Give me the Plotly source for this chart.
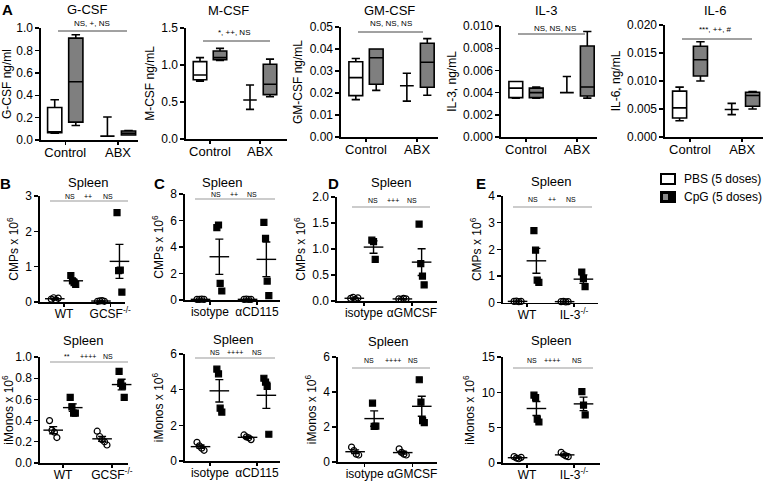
import numpy as np
import plotly.graph_objects as go

W, H = 766, 482
FONT = "Liberation Sans, Arial, sans-serif"

# ---------------- Panel A: box summaries [Control, ABX] ----------------
box_categories = ["Control", "ABX"]

gcsf_pbs_low = [0.06, 0.035]
gcsf_pbs_q1 = [0.065, 0.035]
gcsf_pbs_med = [0.07, 0.035]
gcsf_pbs_q3 = [0.29, 0.035]
gcsf_pbs_high = [0.36, 0.205]
gcsf_cpg_low = [0.13, 0.045]
gcsf_cpg_q1 = [0.16, 0.045]
gcsf_cpg_med = [0.52, 0.06]
gcsf_cpg_q3 = [0.91, 0.08]
gcsf_cpg_high = [0.94, 0.085]

mcsf_pbs_low = [0.78, 0.40]
mcsf_pbs_q1 = [0.80, 0.527]
mcsf_pbs_med = [0.865, 0.527]
mcsf_pbs_q3 = [1.045, 0.527]
mcsf_pbs_high = [1.10, 0.73]
mcsf_cpg_low = [1.06, 0.57]
mcsf_cpg_q1 = [1.07, 0.60]
mcsf_cpg_med = [1.10, 0.74]
mcsf_cpg_q3 = [1.19, 1.01]
mcsf_cpg_high = [1.225, 1.08]

gmcsf_pbs_low = [0.017, 0.0163]
gmcsf_pbs_q1 = [0.0188, 0.0233]
gmcsf_pbs_med = [0.027, 0.0233]
gmcsf_pbs_q3 = [0.0342, 0.0233]
gmcsf_pbs_high = [0.0357, 0.029]
gmcsf_cpg_low = [0.0212, 0.019]
gmcsf_cpg_q1 = [0.024, 0.0226]
gmcsf_cpg_med = [0.036, 0.034]
gmcsf_cpg_q3 = [0.040, 0.0426]
gmcsf_cpg_high = [0.040, 0.0447]

il3_pbs_low = [0.0035, 0.0040]
il3_pbs_q1 = [0.00355, 0.0040]
il3_pbs_med = [0.0044, 0.0040]
il3_pbs_q3 = [0.0050, 0.0040]
il3_pbs_high = [0.0050, 0.00545]
il3_cpg_low = [0.0035, 0.0035]
il3_cpg_q1 = [0.00355, 0.0037]
il3_cpg_med = [0.0040, 0.0045]
il3_cpg_q3 = [0.0044, 0.0082]
il3_cpg_high = [0.0045, 0.0095]

il6_pbs_low = [0.0029, 0.0040]
il6_pbs_q1 = [0.0034, 0.0049]
il6_pbs_med = [0.0052, 0.0049]
il6_pbs_q3 = [0.0082, 0.0049]
il6_pbs_high = [0.0089, 0.0060]
il6_cpg_low = [0.0100, 0.0050]
il6_cpg_q1 = [0.0109, 0.0055]
il6_cpg_med = [0.0138, 0.0074]
il6_cpg_q3 = [0.0162, 0.0080]
il6_cpg_high = [0.0170, 0.0081]

# ---------------- Panels B-E: individual mice ----------------
b_labels = ["WT", "GCSF<sup>-/-</sup>"]
c_labels = ["isotype", "αCD115"]
d_labels = ["isotype", "αGMCSF"]
e_labels = ["WT", "IL-3<sup>-/-</sup>"]

# CMPs x 10^6
b_cmp_g1_pbs = [0.08, 0.12, 0.06, 0.11]
b_cmp_g1_cpg = [0.75, 0.60, 0.55, 0.50]
b_cmp_g2_pbs = [0.02, 0.03, 0.04, 0.02]
b_cmp_g2_cpg = [2.53, 0.89, 0.90, 0.28]

c_cmp_g1_pbs = [0.05, 0.04, 0.06, 0.05]
c_cmp_g1_cpg = [5.46, 5.66, 1.26, 0.68]
c_cmp_g2_pbs = [0.05, 0.06, 0.04, 0.05]
c_cmp_g2_cpg = [5.86, 4.65, 1.43, 0.33]

d_cmp_g1_pbs = [0.05, 0.07, 0.03, 0.06]
d_cmp_g1_cpg = [1.17, 1.14, 0.80]
d_cmp_g2_pbs = [0.04, 0.03, 0.05, 0.04]
d_cmp_g2_cpg = [1.48, 0.72, 0.48, 0.31]

e_cmp_g1_pbs = [0.05, 0.06, 0.04, 0.05]
e_cmp_g1_cpg = [2.70, 1.97, 0.85, 0.76]
e_cmp_g2_pbs = [0.04, 0.05, 0.03, 0.04]
e_cmp_g2_cpg = [1.15, 0.90, 0.60]

# iMonos x 10^6
b_mono_g1_pbs = [0.40, 0.31, 0.29, 0.24]
b_mono_g1_cpg = [0.62, 0.53, 0.47, 0.47]
b_mono_g2_pbs = [0.30, 0.25, 0.22, 0.20, 0.17]
b_mono_g2_cpg = [0.865, 0.75, 0.725, 0.62]

c_mono_g1_pbs = [1.05, 0.85, 0.72, 0.60]
c_mono_g1_cpg = [5.15, 4.89, 2.96, 2.74]
c_mono_g2_pbs = [1.46, 1.35, 1.30, 1.20]
c_mono_g2_cpg = [4.64, 4.42, 4.18, 1.50]

d_mono_g1_pbs = [0.85, 0.65, 0.45, 0.40]
d_mono_g1_cpg = [3.36, 2.03, 2.05]
d_mono_g2_pbs = [0.75, 0.55, 0.45, 0.40]
d_mono_g2_cpg = [4.70, 3.42, 2.36, 2.25]

e_mono_g1_pbs = [0.90, 0.70, 0.60, 0.80]
e_mono_g1_cpg = [9.60, 9.25, 6.20, 5.80]
e_mono_g2_pbs = [1.50, 1.20, 1.00, 0.90]
e_mono_g2_cpg = [10.1, 8.20, 6.80]

# ---------------- helpers ----------------
def dx(a, b):
    return [a / W, b / W]


def dy(top, bottom):
    return [1 - bottom / H, 1 - top / H]


def px(x):
    return x / W


def py(y):
    return 1 - y / H


tickfont = dict(family=FONT, size=12, color="black")
axis_base = dict(showline=True, linecolor="black", linewidth=1.6, ticks="outside",
                 ticklen=4, tickwidth=1.4, tickcolor="black", showgrid=False,
                 zeroline=False, tickfont=tickfont, fixedrange=True, automargin=False)

fig = go.Figure()
layout = dict(width=W, height=H, margin=dict(l=0, r=0, t=0, b=0, pad=0, autoexpand=False),
              paper_bgcolor="white", plot_bgcolor="white", showlegend=False,
              font=dict(family=FONT, color="black"))
annotations = []
shapes = []
axis_counter = [0]


def new_axes(xdom, ydom, xrange, yrange, dtick, tickformat, ytitle, xlabels, xfont=12):
    axis_counter[0] += 1
    n = axis_counter[0]
    suf = "" if n == 1 else str(n)
    layout["xaxis" + suf] = dict(axis_base, domain=xdom, range=xrange, anchor="y" + suf,
                                 tickmode="array", tickvals=[0, 1], ticktext=xlabels,
                                 tickangle=0, ticklen=3, ticklabelstandoff=-3,
                                 tickfont=dict(family=FONT, size=xfont, color="black"))
    layout["yaxis" + suf] = dict(axis_base, domain=ydom, range=yrange, anchor="x" + suf,
                                 dtick=dtick, tick0=0, tickformat=tickformat,
                                 title=dict(text=ytitle, font=dict(family=FONT, size=12, color="black"),
                                            standoff=4))
    return "x" + suf, "y" + suf


def text(x, y, t, size=12, bold=False):
    if bold:
        t = "<b>" + t + "</b>"
    annotations.append(dict(x=px(x), y=py(y), xref="paper", yref="paper", text=t,
                            showarrow=False, xanchor="center", yanchor="middle",
                            font=dict(family=FONT, size=size, color="black")))


def hline(x0, x1, y, color="#555555", width=1):
    shapes.append(dict(type="line", xref="paper", yref="paper", x0=px(x0), x1=px(x1),
                       y0=py(y), y1=py(y), line=dict(color=color, width=width)))


# ---------------- Panel A ----------------
OFF_A = 0.2
BOXW = 0.27
box_panels = [
    ("G-CSF", (41, 138), (28, 140), [0, 1.0], 0.2, ".1f", "G-CSF ng/ml", [-0.46, 1.38],
     (gcsf_pbs_low, gcsf_pbs_q1, gcsf_pbs_med, gcsf_pbs_q3, gcsf_pbs_high),
     (gcsf_cpg_low, gcsf_cpg_q1, gcsf_cpg_med, gcsf_cpg_q3, gcsf_cpg_high),
     (87, 9), "NS, +, NS", (92, 23), (58, 127, 31)),
    ("M-CSF", (186, 287), (28, 139), [0, 1.5], 0.5, ".1f", "M-CSF ng/mL", [-0.48, 1.54],
     (mcsf_pbs_low, mcsf_pbs_q1, mcsf_pbs_med, mcsf_pbs_q3, mcsf_pbs_high),
     (mcsf_cpg_low, mcsf_cpg_q1, mcsf_cpg_med, mcsf_cpg_q3, mcsf_cpg_high),
     (228, 10), "*, ++, NS", (234, 33), (203, 270, 41)),
    ("GM-CSF", (341, 438), (27, 137), [0, 0.05], 0.01, ".2f", "GM-CSF ng/mL", [-0.49, 1.41],
     (gmcsf_pbs_low, gmcsf_pbs_q1, gmcsf_pbs_med, gmcsf_pbs_q3, gmcsf_pbs_high),
     (gmcsf_cpg_low, gmcsf_cpg_q1, gmcsf_cpg_med, gmcsf_cpg_q3, gmcsf_cpg_high),
     (389, 10), "NS, NS, NS", (391, 23), (358, 423, 32)),
    ("IL-3", (501, 597), (26, 137), [0, 0.010], 0.002, ".3f", "IL-3, ng/mL", [-0.49, 1.39],
     (il3_pbs_low, il3_pbs_q1, il3_pbs_med, il3_pbs_q3, il3_pbs_high),
     (il3_cpg_low, il3_cpg_q1, il3_cpg_med, il3_cpg_q3, il3_cpg_high),
     (546, 10), "NS, NS, NS", (555, 28), (518, 585, 34)),
    ("IL-6", (665, 763), (25, 137), [0, 0.020], 0.005, ".3f", "IL-6, ng/mL", [-0.48, 1.40],
     (il6_pbs_low, il6_pbs_q1, il6_pbs_med, il6_pbs_q3, il6_pbs_high),
     (il6_cpg_low, il6_cpg_q1, il6_cpg_med, il6_cpg_q3, il6_cpg_high),
     (715, 10), "***, ++, #", (715, 29), (682, 752, 39)),
]

for (title, xd, yd, yr, dt, tf, ytitle, xr, pbs, cpg, tpos, sig, spos, sline) in box_panels:
    xa, ya = new_axes(dx(*xd), dy(*yd), xr, yr, dt, tf, ytitle, box_categories, xfont=13)
    for stats, off, fill in ((pbs, -OFF_A, "white"), (cpg, OFF_A, "#7f7f7f")):
        lo, q1, med, q3, hi = stats
        fig.add_trace(go.Box(
            x=[i + off for i in range(len(box_categories))],
            lowerfence=lo, q1=q1, median=med, q3=q3, upperfence=hi,
            width=BOXW, whiskerwidth=0.6, fillcolor=fill,
            line=dict(color="black", width=1.6), boxpoints=False,
            xaxis=xa, yaxis=ya, hoverinfo="skip"))
    text(tpos[0], tpos[1], title, size=13)
    text(spos[0], spos[1], sig, size=8)
    hline(sline[0], sline[1], sline[2], color="#444444", width=1)

# ---------------- Panels B-E ----------------
OFF_S = 0.2


def jitter(n, spread):
    return [(k - (n - 1) / 2) * spread for k in range(n)]


scatter_panels = [
    # top row: CMPs
    (b_labels, (40, 125), (196, 302), [-0.52, 1.32], [0, 3], 1, "", "CMPs x 10<sup>6</sup>",
     (b_cmp_g1_pbs, b_cmp_g1_cpg, b_cmp_g2_pbs, b_cmp_g2_cpg),
     (88, 182), [(70, "NS"), (88, "++"), (108, "NS")], 196, (50, 128, 201)),
    (c_labels, (185, 280), (194, 300), [-0.53, 1.49], [0, 8], 2, "", "CMPs x 10<sup>6</sup>",
     (c_cmp_g1_pbs, c_cmp_g1_cpg, c_cmp_g2_pbs, c_cmp_g2_cpg),
     (222, 182), [(216, "NS"), (234, "++"), (252, "NS")], 194, (195, 275, 199)),
    (d_labels, (337, 437), (197, 301), [-0.56, 1.52], [0, 2], 0.5, ".1f", "CMPs x 10<sup>6</sup>",
     (d_cmp_g1_pbs, d_cmp_g1_cpg, d_cmp_g2_pbs, d_cmp_g2_cpg),
     (391, 182), [(373, "NS"), (393, "+++"), (412, "NS")], 200, (352, 430, 207)),
    (e_labels, (503, 598), (196, 302.7), [-0.51, 1.51], [0, 4], 1, "", "CMPs x 10<sup>6</sup>",
     (e_cmp_g1_pbs, e_cmp_g1_cpg, e_cmp_g2_pbs, e_cmp_g2_cpg),
     (551, 181), [(533, "NS"), (552, "++"), (571, "NS")], 199, (513, 592, 207)),
    # bottom row: iMonos
    (b_labels, (40, 128), (357, 463), [-0.47, 1.33], [0, 1.0], 0.2, ".1f", "iMonos x 10<sup>6</sup>",
     (b_mono_g1_pbs, b_mono_g1_cpg, b_mono_g2_pbs, b_mono_g2_cpg),
     (83, 340), [(67, "**"), (88, "++++"), (108, "NS")], 356, (50, 128, 362)),
    (c_labels, (185, 280), (354, 461), [-0.53, 1.49], [0, 6], 2, "", "iMonos x 10<sup>6</sup>",
     (c_mono_g1_pbs, c_mono_g1_cpg, c_mono_g2_pbs, c_mono_g2_cpg),
     (233, 339), [(215, "NS"), (235, "++++"), (257, "NS")], 352, (195, 275, 358)),
    (d_labels, (338, 437), (357, 462), [-0.56, 1.52], [0, 6], 2, "", "iMonos x 10<sup>6</sup>",
     (d_mono_g1_pbs, d_mono_g1_cpg, d_mono_g2_pbs, d_mono_g2_cpg),
     (388, 341), [(369, "NS"), (393, "++++"), (413, "NS")], 360, (352, 430, 368)),
    (e_labels, (503, 600), (357, 463), [-0.51, 1.55], [0, 15], 5, "", "iMonos x 10<sup>6</sup>",
     (e_mono_g1_pbs, e_mono_g1_cpg, e_mono_g2_pbs, e_mono_g2_cpg),
     (551, 340), [(532, "NS"), (552, "++++"), (577, "NS")], 360, (513, 593, 368)),
]

for (labels, xd, yd, xr, yr, dt, tf, ytitle, series, tpos, sigs, sigy, sline) in scatter_panels:
    xa, ya = new_axes(dx(*xd), dy(*yd), xr, yr, dt, tf, ytitle, labels, xfont=12)
    for si, vals in enumerate(series):
        group = si // 2
        is_cpg = si % 2 == 1
        center = group + (OFF_S if is_cpg else -OFF_S)
        n = len(vals)
        xs = [center + j for j in jitter(n, 0.035 if is_cpg else 0.05)]
        fig.add_trace(go.Scatter(
            x=xs, y=vals, mode="markers", xaxis=xa, yaxis=ya, cliponaxis=False,
            hoverinfo="skip",
            marker=dict(symbol="square" if is_cpg else "circle-open", size=6,
                        color="black", line=dict(color="black", width=1.2))))
        arr = np.array(vals, dtype=float)
        mean = float(arr.mean())
        sem = float(arr.std(ddof=1) / np.sqrt(n))
        fig.add_trace(go.Scatter(
            x=[center], y=[mean], mode="markers", xaxis=xa, yaxis=ya, cliponaxis=False,
            hoverinfo="skip",
            marker=dict(symbol="line-ew", size=14, color="black",
                        line=dict(color="black", width=1.4)),
            error_y=dict(type="data", array=[sem], symmetric=True, width=4,
                         thickness=1.4, color="black")))
    text(tpos[0], tpos[1], "Spleen", size=13)
    for sx, st in sigs:
        text(sx, sigy, st, size=7)
    hline(sline[0], sline[1], sline[2], color="#9a9a9a", width=1.2)

# ---------------- panel letters ----------------
for lx, ly, lt in ((7, 9, "A"), (6, 183, "B"), (159, 183, "C"), (333, 183, "D"), (481, 183, "E")):
    text(lx, ly, lt, size=15, bold=True)

# ---------------- legend ----------------
shapes.append(dict(type="rect", xref="paper", yref="paper", x0=px(661), x1=px(675),
                   y0=py(184), y1=py(174), line=dict(color="black", width=2), fillcolor="white"))
shapes.append(dict(type="rect", xref="paper", yref="paper", x0=px(661), x1=px(675),
                   y0=py(202), y1=py(192), line=dict(color="black", width=2), fillcolor="black"))
shapes.append(dict(type="rect", xref="paper", yref="paper", x0=px(663), x1=px(668),
                   y0=py(200), y1=py(194), line=dict(width=0), fillcolor="#8a8a8a"))
for ly, lt in ((179, "PBS (5 doses)"), (197, "CpG (5 doses)")):
    annotations.append(dict(x=px(682), y=py(ly), xref="paper", yref="paper", text=lt,
                            showarrow=False, xanchor="left", yanchor="middle",
                            font=dict(family=FONT, size=12, color="black")))

layout["annotations"] = annotations
layout["shapes"] = shapes
fig.update_layout(**layout)
fig.write_html("out.html", config={"displayModeBar": False, "staticPlot": True},
               post_script="document.body.style.margin='0px';document.body.style.overflow='hidden';")
